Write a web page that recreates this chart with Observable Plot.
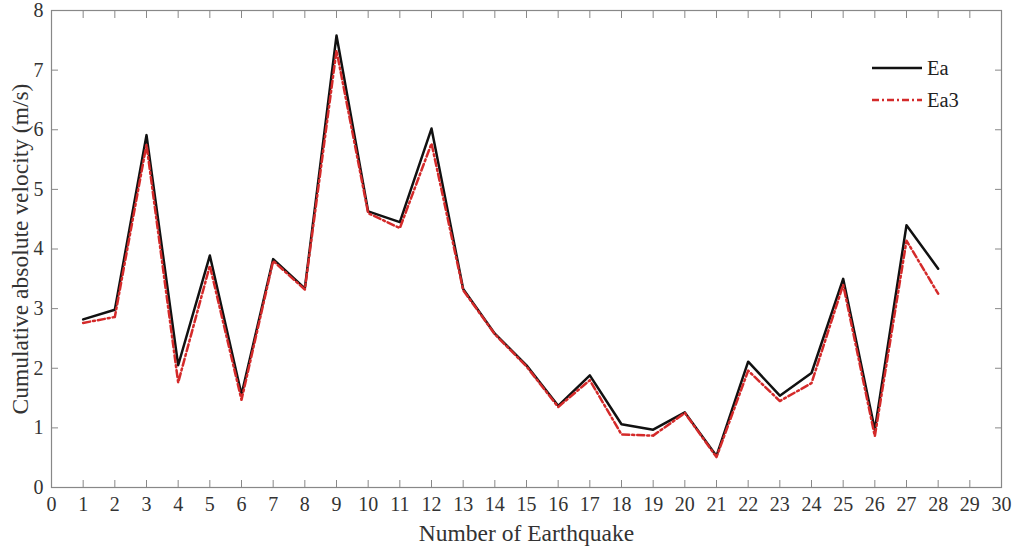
<!DOCTYPE html>
<html>
<head>
<meta charset="utf-8">
<script src="https://cdn.jsdelivr.net/npm/d3@7"></script>
<script src="https://cdn.jsdelivr.net/npm/@observablehq/plot@0.6"></script>
<style>
  html, body { margin: 0; padding: 0; background: #fff; }
  #wrap { position: relative; width: 1018px; height: 547px; }
  #legend { position: absolute; left: 866px; top: 52px; background: #fff; font-family: "Liberation Serif", serif; font-size: 20.5px; color: #222; }
  #legend div { display: flex; align-items: center; height: 32px; }
  #legend svg { margin-right: 5px; }
</style>
</head>
<body>
<div id="wrap"><div id="chart"></div>
<div id="legend">
  <div><svg width="56" height="10"><line x1="6" y1="5" x2="56" y2="5" stroke="#111" stroke-width="2.5"/></svg>Ea</div>
  <div><svg width="56" height="10"><line x1="6" y1="5" x2="56" y2="5" stroke="#d42a2a" stroke-width="2.5" stroke-dasharray="7,3,2,3"/></svg>Ea3</div>
</div>
</div>
<script>
const quakes = d3.range(1, 29);
const ea  = [2.82, 2.98, 5.91, 2.05, 3.89, 1.56, 3.83, 3.34, 7.58, 4.63, 4.45, 6.02, 3.33, 2.58, 2.05, 1.37, 1.88, 1.06, 0.97, 1.26, 0.53, 2.11, 1.54, 1.92, 3.50, 0.97, 4.40, 3.67];
const ea3 = [2.76, 2.86, 5.75, 1.76, 3.72, 1.47, 3.80, 3.32, 7.33, 4.60, 4.35, 5.77, 3.31, 2.57, 2.03, 1.35, 1.80, 0.89, 0.87, 1.25, 0.51, 1.96, 1.45, 1.75, 3.40, 0.86, 4.14, 3.25];
const xTicks = d3.range(0, 31);
const yTicks = d3.range(0, 9);
const xTitle = "Number of Earthquake";
const yTitle = "Cumulative absolute velocity (m/s)";

const rows = quakes.map((q, i) => ({q, ea: ea[i], ea3: ea3[i]}));
const font = "Liberation Serif";
const plot = Plot.plot({
  width: 1018, height: 547,
  marginLeft: 51, marginRight: 17, marginTop: 10, marginBottom: 60,
  style: {fontFamily: font, color: "#333", background: "#fff"},
  x: {domain: [0, 30]},
  y: {domain: [0, 8]},
  marks: [
    Plot.frame({stroke: "#888", strokeWidth: 1.2}),
    Plot.axisX({ticks: xTicks, tickSize: 0, tickPadding: 9, fontSize: 20, label: null, fill: "#333"}),
    Plot.axisX({ticks: xTicks, tickSize: -7, tickFormat: () => "", label: null, stroke: "#888"}),
    Plot.axisX({anchor: "top", ticks: xTicks, tickSize: -7, tickFormat: () => "", label: null, stroke: "#888"}),
    Plot.axisY({ticks: yTicks, tickSize: 0, tickPadding: 8, fontSize: 20, label: null, fill: "#333"}),
    Plot.axisY({ticks: yTicks, tickSize: -7, tickFormat: () => "", label: null, stroke: "#888"}),
    Plot.axisY({anchor: "right", ticks: yTicks, tickSize: -7, tickFormat: () => "", label: null, stroke: "#888"}),
    Plot.text([xTitle], {frameAnchor: "bottom", dy: 46, lineAnchor: "middle", textAnchor: "middle", fontSize: 23.5, fill: "#333"}),
    Plot.text([yTitle], {frameAnchor: "left", dx: -31, rotate: -90, lineAnchor: "middle", textAnchor: "middle", fontSize: 23.5, fill: "#333"}),
    Plot.line(rows, {x: "q", y: "ea", stroke: "#111", strokeWidth: 2.5}),
    Plot.line(rows, {x: "q", y: "ea3", stroke: "#d42a2a", strokeWidth: 2.5, strokeDasharray: "7,3,2,3"})
  ]
});
document.getElementById("chart").appendChild(plot);
</script>
</body>
</html>
